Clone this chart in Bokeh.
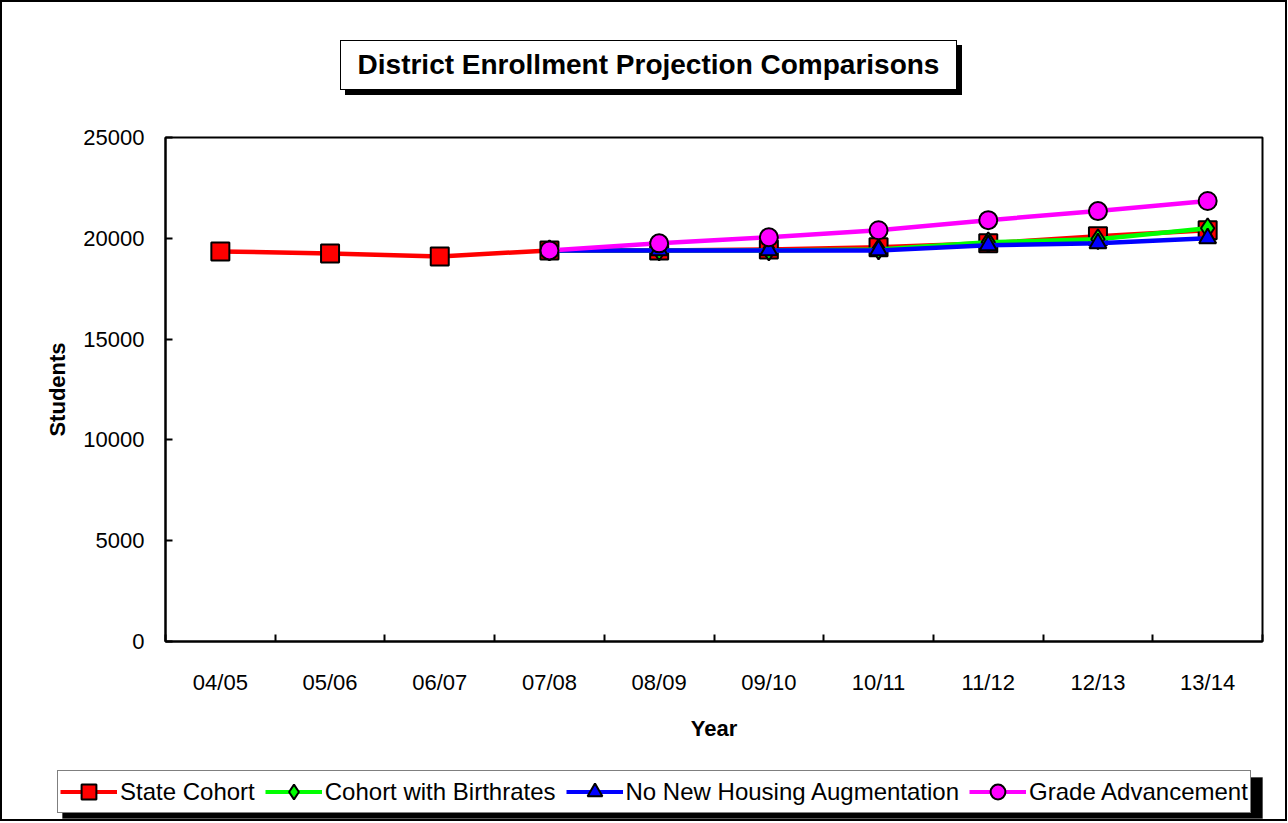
from bokeh.plotting import figure
from bokeh.models import (Range1d, FixedTicker, BoxAnnotation, Legend,
                          LegendItem, ColumnDataSource, Div)
from bokeh.layouts import column
from bokeh.embed import file_html
from bokeh.resources import INLINE

# ---------------- data ----------------
years = ["04/05", "05/06", "06/07", "07/08", "08/09", "09/10",
         "10/11", "11/12", "12/13", "13/14"]
state_cohort = [19350, 19250, 19100, 19400, 19400, 19450, 19550, 19750, 20100, 20400]
proj_years = ["07/08", "08/09", "09/10", "10/11", "11/12", "12/13", "13/14"]
cohort_birthrates = [19400, 19400, 19400, 19450, 19800, 19950, 20500]
no_new_housing = [19400, 19400, 19400, 19400, 19650, 19750, 20000]
grade_advancement = [19400, 19750, 20050, 20400, 20900, 21350, 21850]
y_ticks = [0, 5000, 10000, 15000, 20000, 25000]
title_text = "District Enrollment Projection Comparisons"

FONT = "Liberation Sans"
W = 1287
TOP_H = 120          # title area height
MAIN_H = 640         # main figure height
LEG_H = 61           # legend strip height
FL, FR, FT, FB = 165, 1262, 137, 641   # frame edges in page pixels

pos = {y: i + 0.5 for i, y in enumerate(years)}

# ---------------- title ----------------
title_div = Div(
    width=W, height=TOP_H,
    text=(f'<div style="margin-left:340px;margin-top:40px;width:617px;height:50px;'
          f'box-sizing:border-box;border:1.5px solid black;background:white;'
          f'box-shadow:5px 5px 0 black;display:flex;align-items:center;'
          f'justify-content:center;font-family:\'{FONT}\';font-weight:bold;'
          f'font-size:28px;color:black;white-space:nowrap;">{title_text}</div>'),
    styles={"margin": "0", "padding": "0"})

# ---------------- main plot ----------------
p = figure(width=W, height=MAIN_H, output_backend="svg", toolbar_location=None,
           x_range=Range1d(0, len(years)), y_range=Range1d(0, 25000),
           min_border_left=FL, min_border_right=W - FR,
           min_border_top=FT - TOP_H, min_border_bottom=TOP_H + MAIN_H - FB,
           background_fill_color="white", border_fill_alpha=0)
p.frame_align = False
p.grid.visible = False
p.outline_line_color = "black"
p.outline_line_width = 2

xa = p.xaxis[0]
xa.ticker = FixedTicker(ticks=[pos[y] for y in years],
                        minor_ticks=list(range(len(years) + 1)))
xa.major_label_overrides = {pos[y]: y for y in years}
xa.major_tick_line_color = None
xa.minor_tick_in = 7
xa.minor_tick_out = 0
xa.minor_tick_line_color = "black"
xa.minor_tick_line_width = 2
xa.axis_line_color = "black"
xa.axis_line_width = 2
xa.major_label_text_font = FONT
xa.major_label_text_font_size = "22px"
xa.major_label_text_color = "black"
xa.major_label_standoff = 22
xa.axis_label = "Year"
xa.axis_label_text_font = FONT
xa.axis_label_text_font_size = "22px"
xa.axis_label_text_font_style = "bold"
xa.axis_label_text_color = "black"
xa.axis_label_standoff = 18

ya = p.yaxis[0]
ya.ticker = FixedTicker(ticks=y_ticks, minor_ticks=[])
ya.major_tick_in = 7
ya.major_tick_out = 0
ya.major_tick_line_width = 2
ya.axis_line_width = 2
ya.major_label_text_font = FONT
ya.major_label_text_font_size = "22px"
ya.major_label_text_color = "black"
ya.major_label_standoff = 21
ya.axis_label = "Students"
ya.axis_label_text_font = FONT
ya.axis_label_text_font_size = "22px"
ya.axis_label_text_font_style = "bold"
ya.axis_label_text_color = "black"
ya.axis_label_standoff = 10

series = [
    ("State Cohort", years, state_cohort, "#FF0000", "square", 18),
    ("Cohort with Birthrates", proj_years, cohort_birthrates, "#00FF00", "diamond", 20),
    ("No New Housing Augmentation", proj_years, no_new_housing, "#0000FF", "triangle", 17),
    ("Grade Advancement", proj_years, grade_advancement, "#FF00FF", "circle", 18),
]
sources = []
for name, xs, ys, color, marker, size in series:
    src = ColumnDataSource(dict(x=[pos[v] for v in xs], y=ys))
    sources.append(src)
    p.line("x", "y", source=src, line_color=color, line_width=4.5)
    p.scatter("x", "y", source=src, marker=marker, size=size,
              fill_color=color, line_color="black", line_width=2)

# ---------------- legend strip ----------------
LEG_TOP = TOP_H + MAIN_H
q = figure(width=W, height=LEG_H, output_backend="svg", toolbar_location=None,
           x_range=Range1d(-2, -1), y_range=Range1d(-2, -1),
           x_axis_type=None, y_axis_type=None,
           min_border_left=0, min_border_right=0, min_border_top=0, min_border_bottom=0,
           background_fill_alpha=0, border_fill_alpha=0)
q.frame_align = False
q.grid.visible = False
q.outline_line_color = None
items = []
for (name, xs, ys, color, marker, size), src in zip(series, sources):
    ln = q.line("x", "y", source=src, line_color=color, line_width=4)
    sc = q.scatter("x", "y", source=src, marker=marker, size=size,
                   fill_color=color, line_color="black", line_width=2)
    items.append(LegendItem(label=name, renderers=[ln, sc]))

q.add_layout(BoxAnnotation(left=62, right=1262, top=777 - LEG_TOP, bottom=818 - LEG_TOP,
                           left_units="canvas", right_units="canvas",
                           top_units="canvas", bottom_units="canvas",
                           fill_color="black", fill_alpha=1, line_color="black"))
legend = Legend(items=items, orientation="horizontal",
                location=(57, LEG_TOP + LEG_H - 813),
                label_text_font=FONT, label_text_font_size="24px",
                label_text_color="black",
                glyph_width=57, glyph_height=37, label_standoff=3,
                spacing=10, padding=2, margin=0,
                border_line_color="black", border_line_width=1.5,
                background_fill_color="white", background_fill_alpha=1)
q.add_layout(legend, "center")

layout = column(title_div, p, q, spacing=0,
                styles={"background": "white",
                        "box-shadow": "inset 0 0 0 2px black"})

open("out.html", "w").write(file_html(layout, INLINE))
